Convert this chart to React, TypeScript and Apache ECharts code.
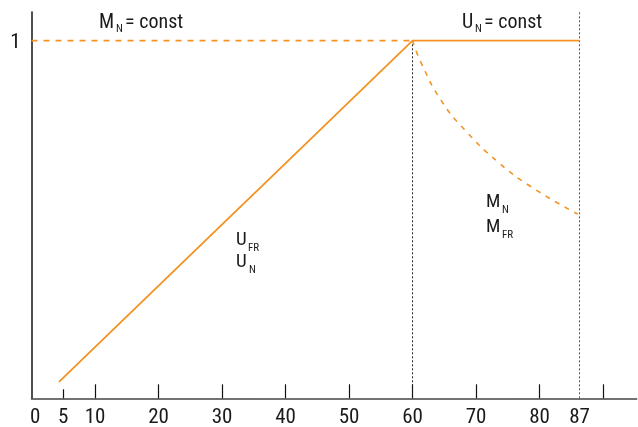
import React, { useEffect, useRef } from "react";
import * as echarts from "echarts";

const FONT = "'Liberation Sans Narrow', 'Arial Narrow', 'Roboto Condensed', 'Liberation Sans', sans-serif";
const ORANGE = "#f39324";

// tick positions / labels
const majorTicks = [10, 20, 30, 40, 50, 60, 70, 80, 90];
const minorTicks = [5];
const labelValues = [0.6, 5, 10, 20, 30, 40, 50, 60, 70, 80, 86.3];
const labelTexts = ["0", "5", "10", "20", "30", "40", "50", "60", "70", "80", "87"];

// U_FR / U_N : ramp then constant
const voltageLine: [number, number][] = [
  [4.33, 0.046],
  [60, 1],
  [86.3, 1],
];
// M_N = const (dashed)
const torqueConst: [number, number][] = [
  [0, 1],
  [60, 1],
];
// M_N / M_FR decreasing (dashed)
const torqueDrop: [number, number][] = [
  [60, 1],
  [61.4, 0.936],
  [64.5, 0.833],
  [68.3, 0.749],
  [73.5, 0.66],
  [78.7, 0.591],
  [86.0, 0.515],
];
const guide60: [number, number][] = [
  [60, 0],
  [60, 1],
];
const guide87: [number, number][] = [
  [86.3, 0],
  [86.3, 1.08],
];

export default function App() {
  const ref = useRef<HTMLDivElement>(null);
  useEffect(() => {
    if (!ref.current) return;
    const chart = echarts.init(ref.current, undefined, { renderer: "svg" });
    const txt = (x: number, y: number, text: string, size: number) => ({
      type: "text",
      x,
      y,
      style: { text, fontSize: size, fontFamily: FONT, fill: "#1a1a1a", verticalAlign: "bottom", align: "left" },
    });
    chart.setOption({
      animation: false,
      grid: { left: 31.5, right: 1.3, top: 12, bottom: 28.7, containLabel: false },
      xAxis: [
        {
          type: "value",
          min: 0,
          max: 95.3,
          axisLine: { show: true, lineStyle: { color: "#444", width: 1.6 } },
          axisTick: { show: true, inside: true, length: 14, customValues: majorTicks, lineStyle: { color: "#111", width: 1.2 } },
          axisLabel: {
            show: true,
            customValues: labelValues,
            formatter: (v: number) => labelTexts[labelValues.indexOf(v)] ?? "",
            fontSize: 21,
            fontFamily: FONT,
            color: "#1a1a1a",
            margin: 7,
          },
          splitLine: { show: false },
        },
        {
          type: "value",
          min: 0,
          max: 95.3,
          position: "bottom",
          offset: 0,
          axisLine: { show: false },
          axisTick: { show: true, inside: true, length: 9, customValues: minorTicks, lineStyle: { color: "#111", width: 1.2 } },
          axisLabel: { show: false },
          splitLine: { show: false },
        },
      ],
      yAxis: {
        type: "value",
        min: 0,
        max: 1.08,
        axisLine: { show: true, lineStyle: { color: "#222", width: 1.6 } },
        axisTick: { show: false },
        axisLabel: {
          show: true,
          customValues: [1],
          fontSize: 21,
          fontFamily: FONT,
          color: "#1a1a1a",
          margin: 11,
        },
        splitLine: { show: false },
      },
      series: [
        {
          type: "line",
          data: guide60,
          symbol: "none",
          lineStyle: { color: "#222", width: 1, type: [2, 2] },
          z: 1,
        },
        {
          type: "line",
          data: guide87,
          symbol: "none",
          lineStyle: { color: "#555", width: 1, type: [2, 2] },
          z: 1,
        },
        {
          type: "line",
          data: torqueConst,
          symbol: "none",
          lineStyle: { color: ORANGE, width: 1.6, type: [6, 6] },
          z: 2,
        },
        {
          type: "line",
          data: torqueDrop,
          symbol: "none",
          smooth: true,
          lineStyle: { color: ORANGE, width: 1.6, type: [5, 6] },
          z: 2,
        },
        {
          type: "line",
          data: voltageLine,
          symbol: "none",
          lineStyle: { color: ORANGE, width: 1.8 },
          z: 3,
        },
      ],
      graphic: [
        txt(99, 31, "M", 20),
        txt(116, 34, "N", 11),
        txt(125, 31, "= const", 20),
        txt(462, 31, "U", 20),
        txt(475, 34, "N", 11),
        txt(484, 31, "= const", 20),
        txt(236, 248, "U", 19),
        txt(248, 253, "FR", 11),
        txt(236, 270, "U", 19),
        txt(249, 275, "N", 11),
        txt(486, 210, "M", 19),
        txt(502, 215, "N", 11),
        txt(486, 235, "M", 19),
        txt(502, 240, "FR", 11),
      ],
    });
    return () => chart.dispose();
  }, []);
  return <div ref={ref} style={{ position: "fixed", left: 0, top: 0, width: 638, height: 427 }} />;
}
